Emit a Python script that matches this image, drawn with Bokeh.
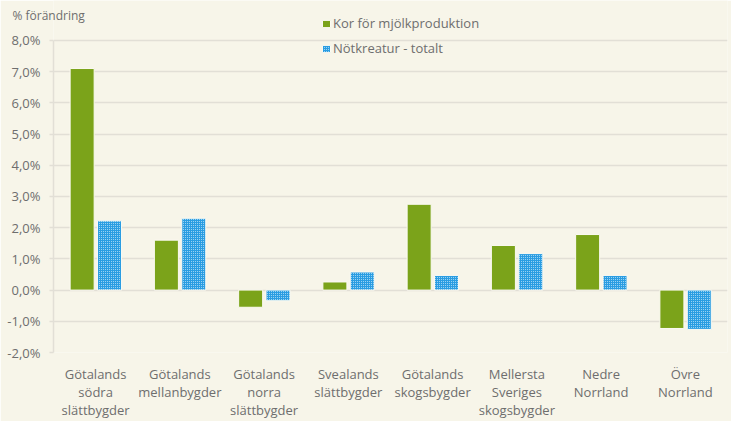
from bokeh.plotting import figure
from bokeh.models import ColumnDataSource, FixedTicker, Legend, LegendItem
from bokeh.transform import dodge
from bokeh.embed import file_html
from bokeh.resources import INLINE

regions = ["Götalands\nsödra\nslättbygder", "Götalands\nmellanbygder", "Götalands\nnorra\nslättbygder",
           "Svealands\nslättbygder", "Götalands\nskogsbygder", "Mellersta\nSveriges\nskogsbygder",
           "Nedre\nNorrland", "Övre\nNorrland"]
kor = [7.1, 1.6, -0.55, 0.26, 2.75, 1.43, 1.78, -1.23]
notkreatur = [2.22, 2.3, -0.34, 0.58, 0.47, 1.17, 0.47, -1.26]
yticks = [-2, -1, 0, 1, 2, 3, 4, 5, 6, 7, 8]

BG = "#f7f5e9"
TXT = "#6e6e6e"
GRID = "#e2dfd6"
FONT = "Open Sans"

source = ColumnDataSource(data=dict(region=regions, kor=kor, notkreatur=notkreatur))

# top of the range is left empty so the legend sits inside the frame
p = figure(x_range=regions, y_range=(-2, 9.28), width=731, height=421,
           output_backend="svg", toolbar_location=None, tools="",
           background_fill_color=BG, border_fill_color=BG, outline_line_color=None,
           min_border_left=53, min_border_right=4, min_border_top=0, min_border_bottom=69)

# negative standoff: the title takes no room and is drawn over the frame's top strip
p.title.text = "% förändring"
p.title.text_font = FONT
p.title.text_font_size = "12px"
p.title.text_font_style = "normal"
p.title.text_color = TXT
p.title.align = "left"
p.title.offset = -41
p.title.standoff = -46

r1 = p.vbar(x=dodge("region", -0.16, range=p.x_range), top="kor", width=0.285, source=source,
            fill_color="#7ba31a", line_color="#fbfaf2", line_width=1)
r2 = p.vbar(x=dodge("region", 0.165, range=p.x_range), top="notkreatur", width=0.285, source=source,
            fill_color="#2a9de2", line_color="#fbfaf2", line_width=1,
            hatch_pattern="dot", hatch_color="#bfe3f7", hatch_scale=2, hatch_weight=1)

legend = Legend(items=[LegendItem(label="Kor för mjölkproduktion", renderers=[r1]),
                       LegendItem(label="Nötkreatur - totalt", renderers=[r2])],
                location=(268, 295), orientation="vertical")
legend.background_fill_alpha = 0
legend.border_line_color = None
legend.label_text_font = FONT
legend.label_text_font_size = "13px"
legend.label_text_color = TXT
legend.glyph_width = 10
legend.glyph_height = 9
legend.label_standoff = 2
legend.spacing = 7
legend.padding = 0
legend.margin = 0
p.add_layout(legend, "center")

p.yaxis.ticker = FixedTicker(ticks=yticks)
p.yaxis.bounds = (-2, 8)
p.yaxis.major_label_overrides = {t: f"{t:.1f}".replace(".", ",") + "%" for t in yticks}
p.yaxis.major_label_text_font = FONT
p.yaxis.major_label_text_font_size = "13px"
p.yaxis.major_label_text_color = TXT
p.yaxis.axis_line_color = GRID
p.yaxis.axis_line_width = 1.5
p.yaxis.major_tick_line_color = GRID
p.yaxis.major_tick_line_width = 1.5
p.yaxis.major_tick_out = 4
p.yaxis.major_tick_in = 0
p.yaxis.minor_tick_line_color = None
p.yaxis.major_label_standoff = 9

p.xaxis.axis_line_color = None
p.xaxis.major_tick_line_color = None
p.xaxis.major_label_text_font = FONT
p.xaxis.major_label_text_font_size = "13px"
p.xaxis.major_label_text_color = TXT
p.xaxis.major_label_text_line_height = 1.0
p.xaxis.major_label_standoff = 6

p.xgrid.grid_line_color = None
p.ygrid.grid_line_color = GRID
p.ygrid.grid_line_width = 1.5

open("out.html", "w").write(file_html(p, INLINE))
